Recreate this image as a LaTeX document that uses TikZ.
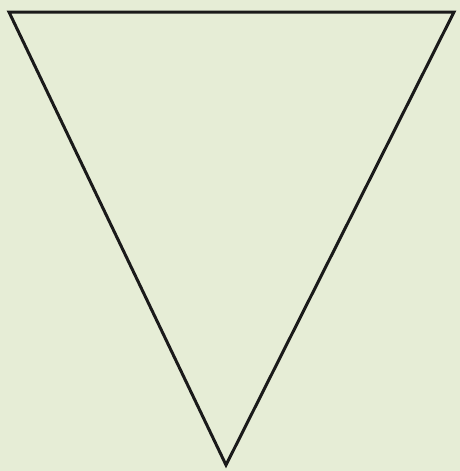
\documentclass[tikz,border=0pt]{standalone}
\definecolor{paper}{HTML}{E6EDD6}
\definecolor{ink}{HTML}{1A1A1A}
\begin{document}
\begin{tikzpicture}[x=1pt,y=-1pt,edge/.style={draw=ink,line width=3pt,line join=miter}]
\fill[paper] (0,0) rectangle (460,471);
\useasboundingbox (0,0) rectangle (460,471);
\coordinate (tl) at (9,12);
\coordinate (tr) at (454,12);
\coordinate (b) at (226,465);
\draw[edge] (tl) -- (tr) -- (b) -- cycle;
\end{tikzpicture}
\end{document}
